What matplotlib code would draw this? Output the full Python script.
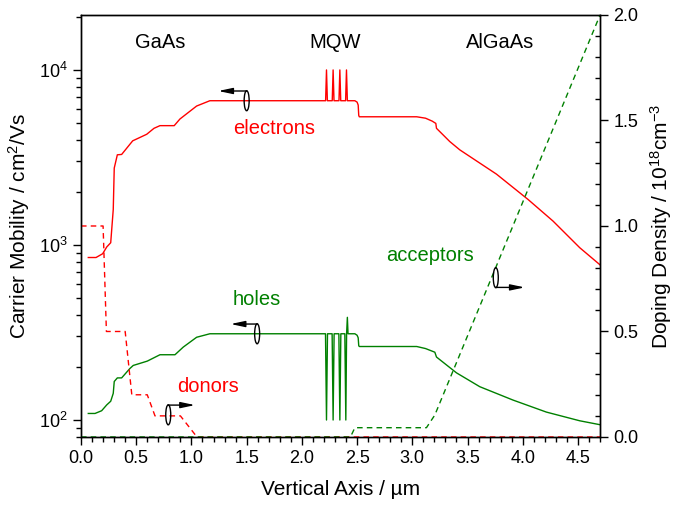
import numpy as np
import matplotlib
matplotlib.use("Agg")
import matplotlib.pyplot as plt
import matplotlib.transforms as transforms
from matplotlib.patches import Ellipse
from matplotlib.ticker import MultipleLocator, FormatStrFormatter, LogLocator, NullFormatter

plt.rcParams['font.family'] = ['Liberation Sans', 'DejaVu Sans']
plt.rcParams['mathtext.fontset'] = 'custom'
plt.rcParams['mathtext.rm'] = 'Liberation Sans'
plt.rcParams['mathtext.it'] = 'Liberation Sans:italic'

RED = '#ff0000'
GREEN = '#008000'

# carrier mobility (cm^2/Vs) along the growth direction (um)
electron_x = [0.066, 0.136, 0.196, 0.233, 0.269, 0.292, 0.301, 0.329, 0.368, 0.468, 0.595,
              0.661, 0.715, 0.844, 0.896, 1.047, 1.167,
              2.215, 2.223, 2.231, 2.275, 2.283, 2.291, 2.336, 2.344, 2.352, 2.396, 2.404, 2.412,
              2.48, 2.50, 2.51, 2.515, 2.52,
              3.04, 3.12, 3.18, 3.213, 3.219, 3.279, 3.339, 3.43, 3.762, 4.048, 4.274, 4.516, 4.70]
electron_mu = [848, 848, 891, 974, 1030, 1595, 2750, 3275, 3290, 3935, 4290,
               4640, 4805, 4805, 5245, 6220, 6670,
               6670, 10000, 6670, 6670, 10000, 6670, 6670, 10000, 6670, 6670, 10000, 6670,
               6670, 6550, 6300, 5500, 5400,
               5400, 5300, 5100, 4950, 4640, 4255, 3900, 3495, 2540, 1820, 1370, 965, 770]

hole_x = [0.066, 0.127, 0.187, 0.233, 0.269, 0.292, 0.301, 0.329, 0.368, 0.443, 0.473,
          0.600, 0.715, 0.851, 0.926, 1.047, 1.167,
          2.214, 2.223, 2.232, 2.274, 2.283, 2.292, 2.335, 2.344, 2.353, 2.389, 2.398, 2.405,
          2.412, 2.418,
          2.48, 2.50, 2.51, 2.515, 2.52,
          3.04, 3.12, 3.204, 3.219, 3.40, 3.611, 3.912, 4.214, 4.516, 4.70]
hole_mu = [109, 109, 113, 122, 128, 142, 166, 174, 174, 197, 205,
           217, 236, 236, 261, 297, 311,
           311, 100, 311, 311, 100, 311, 311, 100, 311, 311, 100, 311,
           386, 311,
           311, 305, 295, 266, 263,
           263, 256, 244, 229, 186, 155, 130, 111, 99, 94]

# doping density (1e18 cm^-3)
donor_x = [0.0, 0.20, 0.23, 0.40, 0.46, 0.60, 0.67, 0.90, 1.05, 4.70]
donor_n = [1.0, 1.0, 0.5, 0.5, 0.2, 0.2, 0.1, 0.1, 0.0, 0.0]
acceptor_x = [0.0, 2.44, 2.48, 3.128, 3.204, 4.70]
acceptor_n = [0.0, 0.0, 0.044, 0.044, 0.104, 2.0]

fig = plt.figure(figsize=(6.79, 5.05), dpi=100)
ax = fig.add_axes([0.1193, 0.1347, 0.7644, 0.8356])
ax2 = ax.twinx()

ax.plot(electron_x, electron_mu, color=RED, lw=1.0)
ax.plot(hole_x, hole_mu, color=GREEN, lw=1.0)
ax2.plot(donor_x, donor_n, color=RED, lw=1.0, dashes=(4, 3), clip_on=False)
ax2.plot(acceptor_x, acceptor_n, color=GREEN, lw=1.0, dashes=(4, 3), clip_on=False)

ax.set_yscale('log')
ax.set_xlim(0, 4.7)
ax.set_ylim(80, 20600)
ax2.set_ylim(0, 2.0)

ax.xaxis.set_major_locator(MultipleLocator(0.5))
ax.xaxis.set_minor_locator(MultipleLocator(0.1))
ax.xaxis.set_major_formatter(FormatStrFormatter('%.1f'))
ax.yaxis.set_major_locator(LogLocator(base=10))
ax.yaxis.set_minor_locator(LogLocator(base=10, subs=np.arange(2, 10)))
ax.yaxis.set_minor_formatter(NullFormatter())
ax2.yaxis.set_major_locator(MultipleLocator(0.5))
ax2.yaxis.set_minor_locator(MultipleLocator(0.1))
ax2.yaxis.set_major_formatter(FormatStrFormatter('%.1f'))

for a in (ax, ax2):
    for s in a.spines.values():
        s.set_linewidth(1.0)
ax.tick_params(which='major', direction='out', length=6, width=1.0, labelsize=13)
ax.tick_params(which='minor', direction='out', length=3.5, width=1.0)
ax2.tick_params(which='major', direction='out', length=6, width=1.0, labelsize=13)
ax2.tick_params(which='minor', direction='in', length=3.5, width=1.0)

ax.set_xlabel('Vertical Axis / \u00b5m', fontsize=15, labelpad=9)
ax.set_ylabel('Carrier Mobility / cm$^2$/Vs', fontsize=15, labelpad=5)
ax2.set_ylabel('Doping Density / 10$^{18}$cm$^{-3}$', fontsize=15, labelpad=7)

# region and curve labels
for txt, xf in [('GaAs', 0.152), ('MQW', 0.489), ('AlGaAs', 0.807)]:
    ax.text(xf, 0.936, txt, transform=ax.transAxes, ha='center', va='center', fontsize=14.5)
ax.text(0.372, 0.732, 'electrons', color=RED, transform=ax.transAxes, ha='center', va='center', fontsize=14.5)
ax.text(0.339, 0.325, 'holes', color=GREEN, transform=ax.transAxes, ha='center', va='center', fontsize=14.5)
ax.text(0.245, 0.119, 'donors', color=RED, transform=ax.transAxes, ha='center', va='center', fontsize=14.5)
ax.text(0.672, 0.429, 'acceptors', color=GREEN, transform=ax.transAxes, ha='center', va='center', fontsize=14.5)


def axis_marker(axis, x, y, tip_x, side):
    # small ring on the curve with an arrow pointing to the axis it belongs to
    tr = fig.dpi_scale_trans + transforms.ScaledTranslation(x, y, axis.transData)
    axis.add_patch(Ellipse((0, 0), 0.05, 0.2, transform=tr, fill=False,
                           ec='black', lw=1.0, zorder=5, clip_on=False))
    off = transforms.offset_copy(axis.transData, fig=fig, x=0, y=side * 7.0, units='points')
    axis.annotate('', xy=(tip_x, y), xycoords=off, xytext=(x, y), textcoords=off,
                  arrowprops=dict(arrowstyle='-|>,head_length=0.85,head_width=0.18',
                                  color='black', lw=1.0, shrinkA=0, shrinkB=0))


axis_marker(ax, 1.50, 6670, 1.243, 1)
axis_marker(ax, 1.595, 311, 1.355, 1)
axis_marker(ax2, 0.79, 0.105, 1.032, 1)
axis_marker(ax2, 3.756, 0.755, 4.018, -1)

fig.savefig('out.png', dpi=100)
